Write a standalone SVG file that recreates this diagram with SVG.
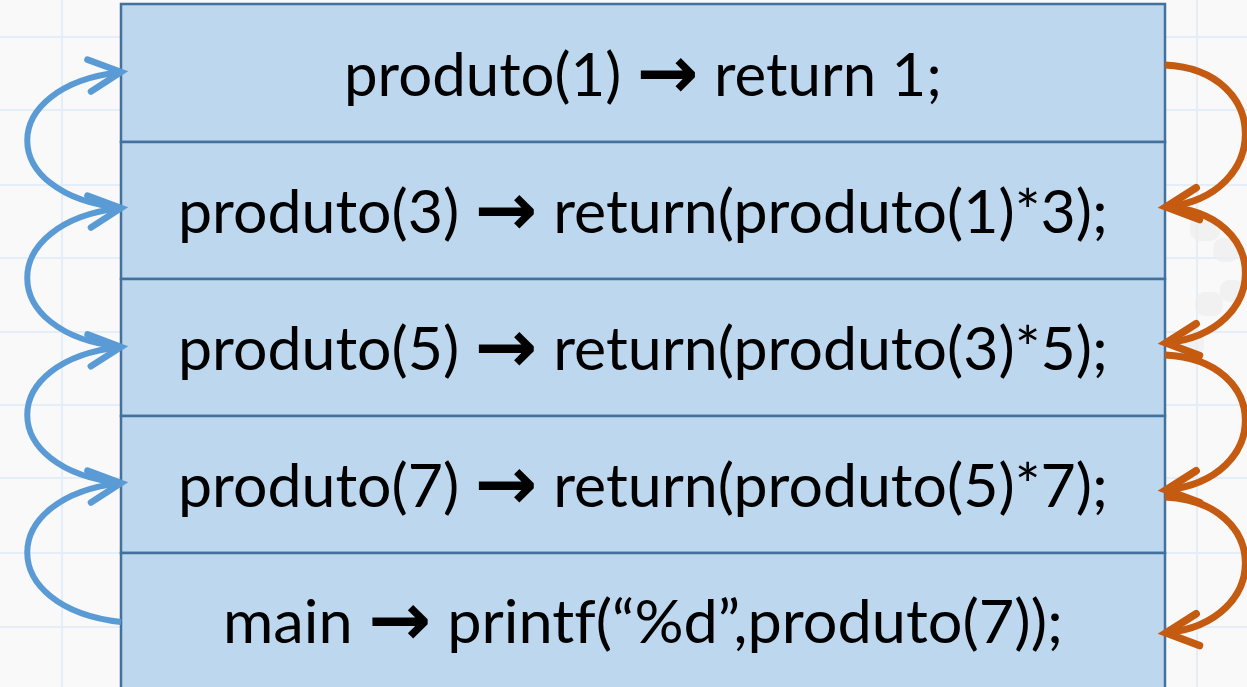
<svg xmlns="http://www.w3.org/2000/svg" width="1247" height="687" viewBox="0 0 1247 687">
  <style>
    .frame { fill: #BDD7EE; stroke: #41719C; stroke-width: 2.5; }
    .code { font-family: Lato, "Open Sans", "Liberation Sans", sans-serif; font-size: 60px; fill: #000; text-anchor: middle; font-variant-ligatures: none; }
    .arr { font-family: "DejaVu Sans", sans-serif; font-weight: bold; font-size: 74px; }
    .grid { stroke: #E3EEF8; stroke-width: 2; }
    .call { fill: none; stroke: #5B9BD5; stroke-width: 6; stroke-linecap: butt; }
    .ret { fill: none; stroke: #C55A11; stroke-width: 7; stroke-linecap: butt; }
  </style>
  <defs>
    <marker id="headBlue" markerUnits="userSpaceOnUse" markerWidth="60" markerHeight="60" refX="40" refY="30" orient="auto" overflow="visible">
      <path d="M8,14 L40,30 L8,46" fill="none" stroke="#5B9BD5" stroke-width="6.5" stroke-linecap="round" stroke-linejoin="miter"/>
    </marker>
    <marker id="headOrange" markerUnits="userSpaceOnUse" markerWidth="60" markerHeight="60" refX="40" refY="30" orient="auto" overflow="visible">
      <path d="M8,14 L40,30 L8,46" fill="none" stroke="#C55A11" stroke-width="7.5" stroke-linecap="round" stroke-linejoin="miter"/>
    </marker>
  </defs>

  <!-- page background with light grid -->
  <rect x="0" y="0" width="1247" height="687" fill="#F9F9F9"/>
  <g id="grid">
    <line class="grid" x1="0" y1="37" x2="1247" y2="37"/>
    <line class="grid" x1="0" y1="110" x2="1247" y2="110"/>
    <line class="grid" x1="0" y1="185" x2="1247" y2="185"/>
    <line class="grid" x1="0" y1="258" x2="1247" y2="258"/>
    <line class="grid" x1="0" y1="332" x2="1247" y2="332"/>
    <line class="grid" x1="0" y1="405" x2="1247" y2="405"/>
    <line class="grid" x1="0" y1="478" x2="1247" y2="478"/>
    <line class="grid" x1="0" y1="553" x2="1247" y2="553"/>
    <line class="grid" x1="0" y1="627" x2="1247" y2="627"/>
    <line class="grid" x1="62" y1="0" x2="62" y2="687"/>
    <line class="grid" x1="1197" y1="0" x2="1197" y2="687"/>
  </g>

  <!-- faint decorative shapes on the right margin -->
  <g id="decor" fill="#EEEEEE" opacity="0.7">
    <rect x="1190" y="215" width="30" height="26" rx="10"/>
    <rect x="1213" y="238" width="26" height="24" rx="10"/>
    <rect x="1195" y="292" width="28" height="24" rx="10"/>
    <rect x="1220" y="280" width="24" height="22" rx="9"/>
    <rect x="1178" y="330" width="26" height="26" rx="10"/>
  </g>

  <!-- call stack frames, top of stack first -->
  <g id="frame1">
    <rect class="frame" x="121" y="4" width="1044" height="138"/>
    <text class="code" x="643" y="96" textLength="598" lengthAdjust="spacingAndGlyphs">produto(1) <tspan class="arr" dy="2">→</tspan><tspan dy="-2"> return 1;</tspan></text>
  </g>
  <g id="frame2">
    <rect class="frame" x="121" y="142" width="1044" height="137"/>
    <text class="code" x="643" y="233" textLength="930" lengthAdjust="spacingAndGlyphs">produto(3) <tspan class="arr" dy="2">→</tspan><tspan dy="-2"> return(produto(1)*3);</tspan></text>
  </g>
  <g id="frame3">
    <rect class="frame" x="121" y="279" width="1044" height="137"/>
    <text class="code" x="643" y="370" textLength="930" lengthAdjust="spacingAndGlyphs">produto(5) <tspan class="arr" dy="2">→</tspan><tspan dy="-2"> return(produto(3)*5);</tspan></text>
  </g>
  <g id="frame4">
    <rect class="frame" x="121" y="416" width="1044" height="137"/>
    <text class="code" x="643" y="507" textLength="930" lengthAdjust="spacingAndGlyphs">produto(7) <tspan class="arr" dy="2">→</tspan><tspan dy="-2"> return(produto(5)*7);</tspan></text>
  </g>
  <g id="frame5">
    <rect class="frame" x="121" y="553" width="1044" height="140"/>
    <text class="code" x="643" y="643" textLength="840" lengthAdjust="spacingAndGlyphs">main <tspan class="arr" dy="2">→</tspan><tspan dy="-2"> printf(“%d”,produto(7));</tspan></text>
  </g>

  <!-- connectors: calls on the left, returns on the right -->
  <g id="connectors">
    <path class="call" d="M121,622 C-4,608 -4,497 121,483" marker-end="url(#headBlue)"/>
    <path class="call" d="M121,483 C-4,470 -4,360 121,347" marker-end="url(#headBlue)"/>
    <path class="call" d="M121,347 C-4,334 -4,222 121,208" marker-end="url(#headBlue)"/>
    <path class="call" d="M121,208 C-4,195 -4,86 121,72" marker-end="url(#headBlue)"/>

    <path class="ret" d="M1165,65 C1272,70 1272,196 1166,207" marker-end="url(#headOrange)"/>
    <path class="ret" d="M1165,207 C1272,212 1272,332 1166,343" marker-end="url(#headOrange)"/>
    <path class="ret" d="M1165,355 C1272,360 1272,479 1166,490" marker-end="url(#headOrange)"/>
    <path class="ret" d="M1165,497 C1272,502 1272,622 1166,633" marker-end="url(#headOrange)"/>
  </g>
</svg>
